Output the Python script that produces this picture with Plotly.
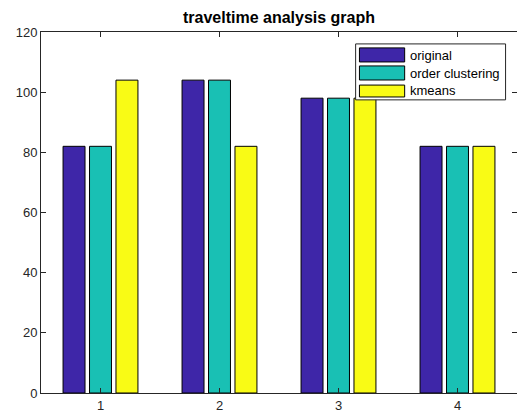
import plotly.graph_objects as go

categories = [1, 2, 3, 4]
series_names = ["original", "order clustering", "kmeans"]
original = [82, 104, 98, 82]
order_clustering = [82, 104, 98, 82]
kmeans = [104, 82, 98, 82]
colors = ["#3e26a8", "#19c0b4", "#f9fb15"]

FONT = "Arial, Liberation Sans, sans-serif"

fig = go.Figure()
for name, vals, c in zip(series_names, [original, order_clustering, kmeans], colors):
    fig.add_trace(go.Bar(x=categories, y=vals, name=name,
                         marker=dict(color=c, line=dict(color="#000000", width=1))))

tick_common = dict(ticks="inside", ticklen=5, tickcolor="#262626", showgrid=False, zeroline=False,
                   automargin=False, tickfont=dict(family=FONT, size=13, color="#262626"))

# custom MATLAB-style legend (paper coordinates of the plot area)
shapes = [dict(type="rect", xref="paper", yref="paper", x0=0.661, x1=0.976, y0=0.812, y1=0.967,
               fillcolor="white", line=dict(color="#262626", width=1), layer="above")]
annotations = []
rows = [(0.917, 0.956, 0.936), (0.867, 0.906, 0.885), (0.820, 0.853, 0.837)]
for (y0, y1, yc), name, c in zip(rows, series_names, colors):
    shapes.append(dict(type="rect", xref="paper", yref="paper", x0=0.669, x1=0.764, y0=y0, y1=y1,
                       fillcolor=c, line=dict(color="#000000", width=1), layer="above"))
    annotations.append(dict(xref="paper", yref="paper", x=0.770, y=yc, text=name, showarrow=False,
                            xanchor="left", yanchor="middle",
                            font=dict(family=FONT, size=13, color="#000000")))

# invisible helper trace so the right-hand tick axis is drawn
fig.add_trace(go.Scatter(x=[categories[0]], y=[original[0]], yaxis="y2", mode="markers",
                         marker=dict(opacity=0), hoverinfo="skip", showlegend=False))

fig.update_layout(
    width=517, height=416,
    margin=dict(l=41, r=0, t=32, b=23, pad=0),
    paper_bgcolor="white", plot_bgcolor="white",
    barmode="group", bargap=0.333, bargroupgap=0.17,
    title=dict(text="<b>traveltime analysis graph</b>", x=279 / 517, xanchor="center",
               y=1 - 17 / 416, yanchor="middle",
               font=dict(family=FONT, size=16, color="#000000")),
    xaxis=dict(range=[0.5, 4.5], tickvals=categories, ticktext=[str(c) for c in categories],
               showline=True, linecolor="#262626", linewidth=1, mirror="ticks", **tick_common),
    yaxis=dict(range=[0, 120], dtick=20, showline=True, linecolor="#262626", linewidth=1,
               mirror=False, **tick_common),
    yaxis2=dict(range=[0, 120], dtick=20, overlaying="y", side="right", showline=False,
                showticklabels=False, **tick_common),
    shapes=shapes, annotations=annotations,
    showlegend=False,
)
fig.write_html("out.html", config={"displayModeBar": False},
               post_script="document.body.style.margin='0';")
